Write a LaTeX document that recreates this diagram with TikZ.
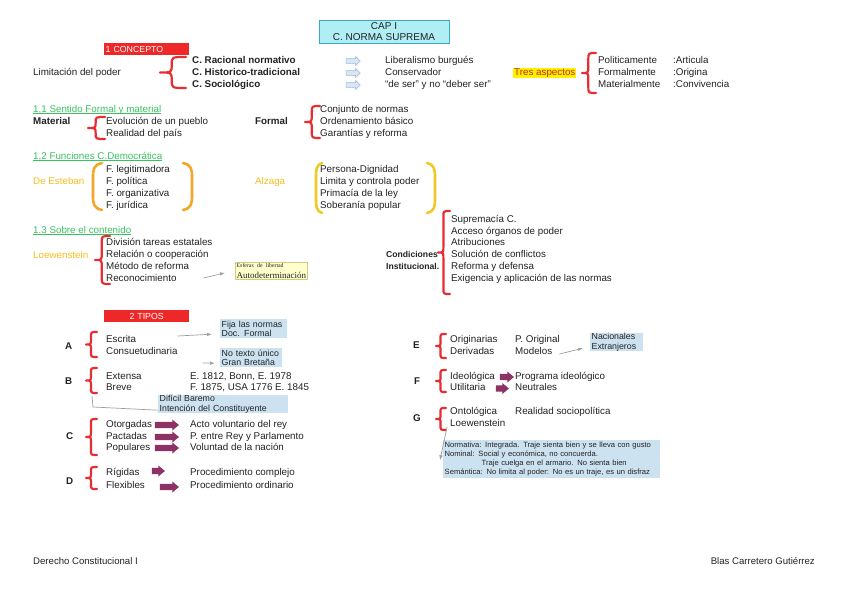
\documentclass[tikz,border=0pt]{standalone}
\usepackage{fontspec}
\setmainfont{Liberation Sans}
\newfontfamily\boxserif{Liberation Serif}
\usepackage{xcolor}
\usetikzlibrary{positioning,arrows.meta,shapes.arrows}

\definecolor{bracered}{RGB}{230,45,50}
\definecolor{boxred}{RGB}{238,40,40}
\definecolor{titlecyan}{RGB}{175,238,245}
\definecolor{titleedge}{RGB}{60,170,190}
\definecolor{headgreen}{RGB}{55,195,95}
\definecolor{authgold}{RGB}{248,190,30}
\definecolor{parenorange}{RGB}{245,165,40}
\definecolor{parenyellow}{RGB}{240,200,40}
\definecolor{noteblue}{RGB}{205,226,240}
\definecolor{noteyellow}{RGB}{255,255,204}
\definecolor{noteedge}{RGB}{205,205,130}
\definecolor{plum}{RGB}{140,50,100}
\definecolor{arrowblue}{RGB}{215,230,245}
\definecolor{arrowedge}{RGB}{160,185,210}
\definecolor{textgray}{RGB}{34,34,34}
\definecolor{hlyellow}{RGB}{255,242,0}
\definecolor{hlred}{RGB}{200,40,20}

% curly brace: x of the ends, top, bottom, width
\newcommand{\drawbrace}[4]{%
  \pgfmathsetmacro\brbar{#1-0.55*#4}
  \pgfmathsetmacro\brtip{#1-#4}
  \pgfmathsetmacro\brmid{(#2+#3)/2}
  \pgfmathsetmacro\brcut{min(0.45*#4,(#3-#2)/4)}
  \draw[curly] (#1,#2) .. controls (\brbar,#2) .. (\brbar,#2+\brcut)
    -- (\brbar,\brmid-\brcut) .. controls (\brbar,\brmid) .. (\brtip,\brmid)
    .. controls (\brbar,\brmid) .. (\brbar,\brmid+\brcut)
    -- (\brbar,#3-\brcut) .. controls (\brbar,#3) .. (#1,#3);
}
% round bracket: colour, x of the ends, x of the bow, top, bottom
\newcommand{\drawparen}[5]{%
  \draw[bow, draw=#1] (#2,#4) .. controls (#3,#4+2) and (#3,#4+7) .. (#3,#4+15)
    -- (#3,#5-15) .. controls (#3,#5-7) and (#3,#5-2) .. (#2,#5);
}

\begin{document}
\begin{tikzpicture}[x=1pt, y=-1pt, font=\fontsize{9.8}{11}\selectfont, text=textgray]
\tikzstyle{txt}=[anchor=west, inner sep=0pt, text height=7pt, text depth=2pt]
\tikzstyle{bold}=[txt, font=\fontsize{9.8}{11}\selectfont\bfseries]
\tikzstyle{head}=[txt, text=headgreen]
\tikzstyle{auth}=[txt, text=authgold]
\tikzstyle{tag}=[anchor=north west, fill=boxred, text=white, inner xsep=1.5pt,
  inner ysep=0pt, minimum height=12pt, text width=82pt, font=\fontsize{8.8}{10}\selectfont]
\tikzstyle{note}=[anchor=north west, fill=noteblue, align=left, inner xsep=1.5pt,
  inner ysep=0pt, font=\fontsize{8.8}{9.5}\selectfont]
\tikzstyle{hollow}=[single arrow, draw=arrowedge, fill=arrowblue, line width=0.5pt,
  inner xsep=0pt, inner ysep=2.2pt, minimum height=14pt, single arrow head extend=2.2pt]
\tikzstyle{plumarrow}=[single arrow, fill=plum, inner xsep=0pt, inner ysep=3pt,
  single arrow head extend=2.3pt, single arrow tip angle=80]
\tikzstyle{pointer}=[draw=gray!75, line width=0.7pt, -{Latex[length=5pt,width=3.5pt]}]
\tikzstyle{link}=[draw=gray!75, line width=0.7pt]
\tikzstyle{curly}=[draw=bracered, line width=2.2pt, line cap=round, line join=round]
\tikzstyle{bow}=[line width=2.6pt, line cap=round]
\tikzstyle{uline}=[draw=headgreen, line width=0.5pt]

\fill[white] (0,0) rectangle (848,599);
\useasboundingbox (0,0) rectangle (848,599);

% title and concept
\node[draw=titleedge, fill=titlecyan, align=center, inner sep=0pt, minimum width=130pt,
  minimum height=23pt, font=\fontsize{10}{11.5}\selectfont] (cap) at (384,31.5)
  {CAP I\\C. NORMA SUPREMA};
\node[tag] (concepto) at (104,43) {1 CONCEPTO};
\node[txt] (lim) at (33,73) {Limitación del poder};
\drawbrace{186}{57}{88}{26}
\node[bold] (cr) at (192,61) {C. Racional normativo};
\node[bold] (ch) at (192,73) {C. Historico-tradicional};
\node[bold] (cs) at (192,85) {C. Sociológico};
\node[hollow] (a1) at (352,61) {};
\node[hollow] (a2) at (352,73) {};
\node[hollow] (a3) at (352,85) {};
\node[txt] (lib) at (385,61) {Liberalismo burgués};
\node[txt] (cons) at (385,73) {Conservador};
\node[txt] (ser) at (385,85) {``de ser'' y no ``deber ser''};
\node[txt, fill=hlyellow, text=hlred, inner xsep=1pt, inner ysep=0.5pt] (tres) at (513,73) {Tres aspectos};
\drawbrace{596}{53}{93}{14}
\node[txt] (pol) at (598,61) {Politicamente};
\node[txt] (form) at (598,73) {Formalmente};
\node[txt] (mater) at (598,85) {Materialmente};
\node[txt] (art) at (673,61) {:Articula};
\node[txt] (ori) at (673,73) {:Origina};
\node[txt] (conv) at (673,85) {:Convivencia};

% 1,1
\node[head] (h11) at (33,110) {1,1 Sentido Formal y material};
\draw[uline] ([yshift=1pt]h11.south west) -- ([yshift=1pt]h11.south east);
\node[bold] (material) at (33,122) {Material};
\drawbrace{105}{117}{139}{17}
\node[txt] (evo) at (106,122) {Evolución de un pueblo};
\node[txt] (real) at (106,134) {Realidad del país};
\node[bold] (formal) at (255,122) {Formal};
\drawbrace{320}{106}{138}{15}
\node[txt] (cjn) at (320,110) {Conjunto de normas};
\node[txt] (ord) at (320,122) {Ordenamiento básico};
\node[txt] (gar) at (320,134) {Garantías y reforma};

% 1,2
\node[head] (h12) at (33,157) {1,2 Funciones C.Democrática};
\draw[uline] ([yshift=1pt]h12.south west) -- ([yshift=1pt]h12.south east);
\node[auth] (est) at (33,182) {De Esteban};
\drawparen{parenorange}{102}{93}{163}{210}
\drawparen{parenorange}{183}{192}{163}{210}
\node[txt] (f1) at (106,170) {F. legitimadora};
\node[txt] (f2) at (106,182) {F. política};
\node[txt] (f3) at (106,194) {F. organizativa};
\node[txt] (f4) at (106,206) {F. jurídica};
\node[auth] (alz) at (255,182) {Alzaga};
\drawparen{parenyellow}{322}{316}{163}{213}
\drawparen{parenyellow}{427}{435}{163}{213}
\node[txt] (p1) at (320,170) {Persona-Dignidad};
\node[txt] (p2) at (320,182) {Limita y controla poder};
\node[txt] (p3) at (320,194) {Primacía de la ley};
\node[txt] (p4) at (320,206) {Soberanía popular};

% 1.3
\node[head] (h13) at (33,231) {1.3 Sobre el contenido};
\draw[uline] ([yshift=1pt]h13.south west) -- ([yshift=1pt]h13.south east);
\node[auth] (loew) at (33,256) {Loewenstein};
\drawbrace{110}{236}{284}{15}
\node[txt] (d1) at (106,243) {División tareas estatales};
\node[txt] (d2) at (106,255) {Relación o cooperación};
\node[txt] (d3) at (106,267) {Método de reforma};
\node[txt] (d4) at (106,279) {Reconocimiento};
\node[anchor=north west, fill=noteyellow, draw=noteedge, line width=0.4pt, align=left,
  inner xsep=1.5pt, inner ysep=1pt, text width=69pt, font=\boxserif] (esf) at (235,262)
  {{\fontsize{5.8}{6.5}\selectfont Esferas de libertad}\\[-1pt]{\fontsize{9}{9}\selectfont Autodeterminación}};
\draw[pointer] ([xshift=27pt,yshift=1pt]d4.east) -- ([xshift=-10pt,yshift=-2pt]esf.west);
\node[bold, font=\fontsize{8.6}{11}\selectfont\bfseries] (cond) at (386,255) {Condiciones};
\node[bold, font=\fontsize{8.6}{11}\selectfont\bfseries] (inst) at (386,267) {Institucional.};
\drawbrace{450}{211}{294}{12}
\node[txt] (s1) at (451,220) {Supremacía C.};
\node[txt] (s2) at (451,232) {Acceso órganos de poder};
\node[txt] (s3) at (451,243) {Atribuciones};
\node[txt] (s4) at (451,255) {Solución de conflictos};
\node[txt] (s5) at (451,267) {Reforma y defensa};
\node[txt] (s6) at (451,279) {Exigencia y aplicación de las normas};

% 2 tipos
\node[tag, align=center] (tipos) at (104,310) {2 TIPOS};
\node[bold] (la) at (65,347) {A};
\drawbrace{97}{332}{357}{11}
\node[txt] (esc) at (106,340) {Escrita};
\node[txt] (cons2) at (106,352) {Consuetudinaria};
\node[note, text width=64pt, minimum height=19pt] (fija) at (220,319) {Fija las normas\\Doc. Formal};
\node[note, text width=59pt, minimum height=19pt] (notxt) at (220,348) {No texto único\\Gran Bretaña};
\coordinate (nt0) at (203,363);
\draw[pointer] ([xshift=41pt,yshift=4pt]esc.east) -- ([xshift=-8pt,yshift=-5.5pt]fija.west);
\draw[pointer] (nt0) -- ([xshift=-5pt,yshift=-5.5pt]notxt.west);

\node[bold] (lb) at (65,382) {B};
\drawbrace{97}{368}{393}{11}
\node[txt] (ext) at (106,377) {Extensa};
\node[txt] (brv) at (106,388) {Breve};
\node[txt] (e1) at (190,377) {E. 1812, Bonn, E. 1978};
\node[txt] (e2) at (190,388) {F. 1875, USA 1776 E. 1845};
\node[note, text width=127pt, minimum height=18pt] (dif) at (158,395) {Difícil Baremo\\Intención del Constituyente};
\coordinate (bb) at (92,396);
\draw[link] (bb) -- (93,407) -- ([yshift=-6pt]dif.west);

\node[bold] (lc) at (66,437) {C};
\drawbrace{97}{419}{455}{11}
\node[txt] (oto) at (106,425) {Otorgadas};
\node[txt] (pac) at (106,437) {Pactadas};
\node[txt] (pop) at (106,448) {Populares};
\node[plumarrow, minimum height=24pt] (pa1) at (165,425) {};
\node[plumarrow, minimum height=24pt] (pa2) at (165,437) {};
\node[plumarrow, minimum height=24pt] (pa3) at (165,448) {};
\node[txt] (acto) at (190,425) {Acto voluntario del rey};
\node[txt] (pry) at (190,437) {P. entre Rey y Parlamento};
\node[txt] (vol) at (190,448) {Voluntad de la nación};

\node[bold] (ld) at (66,482) {D};
\drawbrace{97}{467}{489}{11}
\node[txt] (rig) at (106,473) {Rígidas};
\node[txt] (flex) at (106,486) {Flexibles};
\node[plumarrow, minimum height=13pt] (pd1) at (156.5,471) {};
\node[plumarrow, minimum height=19pt] (pd2) at (167.5,487) {};
\node[txt] (pc) at (190,473) {Procedimiento complejo};
\node[txt] (po) at (190,486) {Procedimiento ordinario};

% right column
\node[bold] (le) at (413,346) {E};
\drawbrace{446}{334}{358}{10}
\node[txt] (orig) at (450,340) {Originarias};
\node[txt] (deriv) at (450,352) {Derivadas};
\node[txt] (pori) at (515,340) {P. Original};
\node[txt] (mod) at (515,352) {Modelos};
\node[note, text width=50pt, minimum height=18pt] (nac) at (590,333) {Nacionales\\Extranjeros};
\draw[pointer] ([xshift=7pt,yshift=-2pt]mod.east) -- ([xshift=-7pt,yshift=-6pt]nac.west);

\node[bold] (lf) at (414,382) {F};
\drawbrace{446}{370}{392}{10}
\node[txt] (ideo) at (450,377) {Ideológica};
\node[txt] (util) at (450,388) {Utilitaria};
\node[plumarrow, minimum height=14pt] (pf1) at (505,377) {};
\node[plumarrow, minimum height=13pt] (pf2) at (500.5,388.5) {};
\node[txt] (prog) at (515,377) {Programa ideológico};
\node[txt] (neu) at (515,388) {Neutrales};

\node[bold] (lg) at (413,419) {G};
\drawbrace{446}{408}{430}{10}
\node[txt] (onto) at (450,412) {Ontológica};
\node[txt] (loew2) at (450,424) {Loewenstein};
\node[txt] (rsp) at (515,412) {Realidad sociopolítica};
\node[note, text width=214pt, minimum height=38pt, font=\fontsize{7.6}{9}\selectfont] (norm) at (443,440)
  {Normativa: Integrada. Traje sienta bien y se lleva con gusto\\
   Nominal: Social y económica, no concuerda.\\
   \hspace*{37pt}Traje cuelga en el armario. No sienta bien\\
   Semántica: No limita al poder: No es un traje, es un disfraz};
\draw[pointer] ([xshift=-3pt,yshift=-3pt]loew2.west) -- ([xshift=-3pt,yshift=-1pt]norm.west);

% footer
\node[txt, font=\fontsize{9.6}{10}\selectfont] (foot1) at (33,562) {Derecho Constitucional I};
\node[txt, anchor=east, font=\fontsize{9.6}{10}\selectfont] (foot2) at (815,562) {Blas Carretero Gutiérrez};
\end{tikzpicture}
\end{document}
